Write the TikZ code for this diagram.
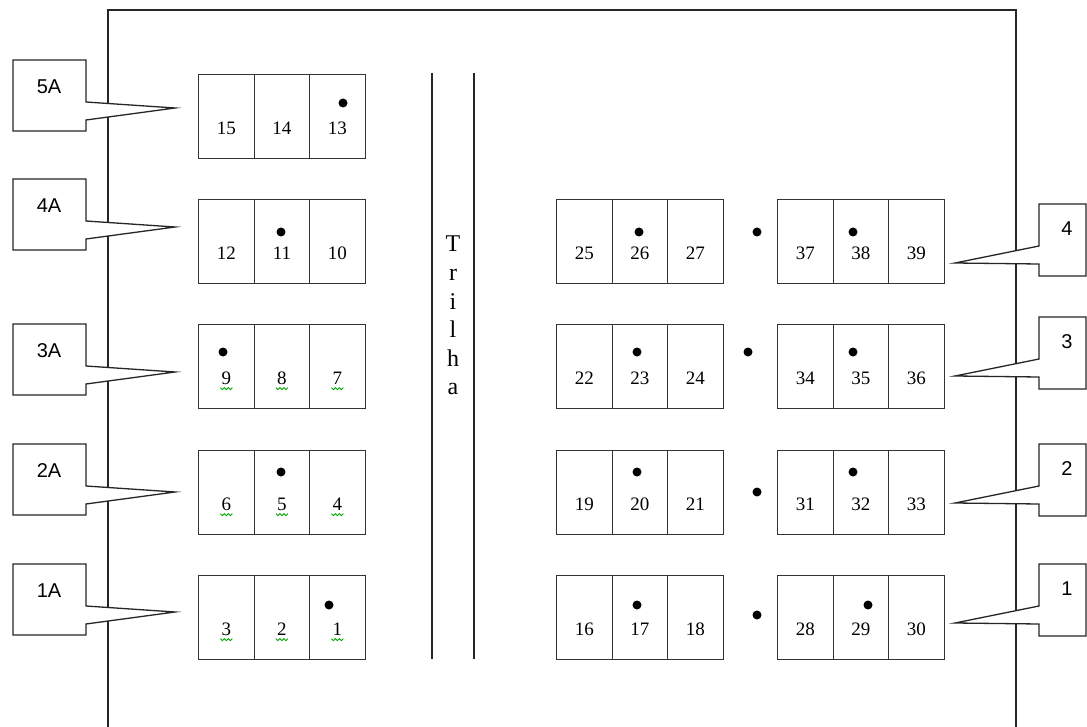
\documentclass[tikz,border=0pt]{standalone}
\usepackage{fontspec}
\setmainfont{Liberation Serif}
\newfontfamily\calfont{Liberation Sans}
\newcommand\seatrow[5]{%
  \node[cell] (s#3) at (#1,#2) {};
  \node[cell] (s#4) at (#1+55.5,#2) {};
  \node[cell] (s#5) at (#1+111,#2) {};
  \node[num] (n#3) at ([yshift=-12pt]s#3.center) {#3};
  \node[num] (n#4) at ([yshift=-12pt]s#4.center) {#4};
  \node[num] (n#5) at ([yshift=-12pt]s#5.center) {#5};
}
\newcommand\squiggle[1]{%
  \draw[squig] ([xshift=-6pt,yshift=-9pt]#1.center) -- ++(2,2) -- ++(2,-2) -- ++(2,2) -- ++(2,-2) -- ++(2,2) -- ++(2,-2);
}
\begin{document}
\begin{tikzpicture}[x=1pt,y=-1pt,
  frame/.style={line width=1.3pt, draw=black!85},
  cell/.style={draw=black!80, line width=1.3pt, minimum width=55.5pt, minimum height=84pt, inner sep=0pt, anchor=north west},
  num/.style={font=\fontsize{19}{19}\selectfont, inner sep=0pt},
  seatdot/.style={fill=black},
  callout/.style={draw=black!85, line width=1.3pt, fill=white, line join=miter},
  clabel/.style={font=\calfont\fontsize{20}{20}\selectfont, inner sep=0pt},
  trl/.style={font=\fontsize{24}{24}\selectfont, inner sep=0pt, anchor=base},
  squig/.style={draw=green!65!black, line width=0.9pt}
]
\useasboundingbox (0,0) rectangle (1087,727);
\fill[white] (0,0) rectangle (1087,727);
% outer frame
\draw[frame] (108,727) -- (108,10) -- (1016,10) -- (1016,727);
% trail
\draw[frame] (432,73) -- (432,659);
\draw[frame] (474,73) -- (474,659);
\foreach \c [count=\i from 0] in {T,r,i,l,h,a}
  \node[trl] (t\i) at (453,252+28.5*\i) {\c};
% left seat rows
\seatrow{198}{74}{15}{14}{13}
\seatrow{198}{199}{12}{11}{10}
\seatrow{198}{324}{9}{8}{7}
\seatrow{198}{450}{6}{5}{4}
\seatrow{198}{575}{3}{2}{1}
\foreach \n in {1,...,9} {\squiggle{n\n}}
% right seat rows
\seatrow{556}{199}{25}{26}{27}
\seatrow{777}{199}{37}{38}{39}
\seatrow{556}{324}{22}{23}{24}
\seatrow{777}{324}{34}{35}{36}
\seatrow{556}{450}{19}{20}{21}
\seatrow{777}{450}{31}{32}{33}
\seatrow{556}{575}{16}{17}{18}
\seatrow{777}{575}{28}{29}{30}
% dots
\foreach \p in {(343,103),(281,232),(223,352),(281,472),(329,605),
  (639,232),(757,232),(853,232),
  (637,352),(748,352),(853,352),
  (637,472),(757,492),(853,472),
  (637,605),(757,615),(868,605)}
  \fill[seatdot] \p circle (4.5pt);
% left callouts
\foreach \t/\l in {60/5A,179/4A,324/3A,444/2A,564/1A} {
  \draw[callout] (13,\t) -- (86,\t) -- (86,\t+42) -- (175,\t+48) -- (86,\t+60) -- (86,\t+71) -- (13,\t+71) -- cycle;
  \node[clabel] (c\l) at (49,\t+27) {\l};
}
% right callouts
\foreach \t/\l in {204/4,317/3,444/2,564/1} {
  \draw[callout] (1039,\t) -- (1086,\t) -- (1086,\t+72) -- (1039,\t+72) -- (1039,\t+60) -- (955,\t+59) -- (1039,\t+42) -- cycle;
  \node[clabel] (r\l) at (1067,\t+25) {\l};
}
\end{tikzpicture}
\end{document}
